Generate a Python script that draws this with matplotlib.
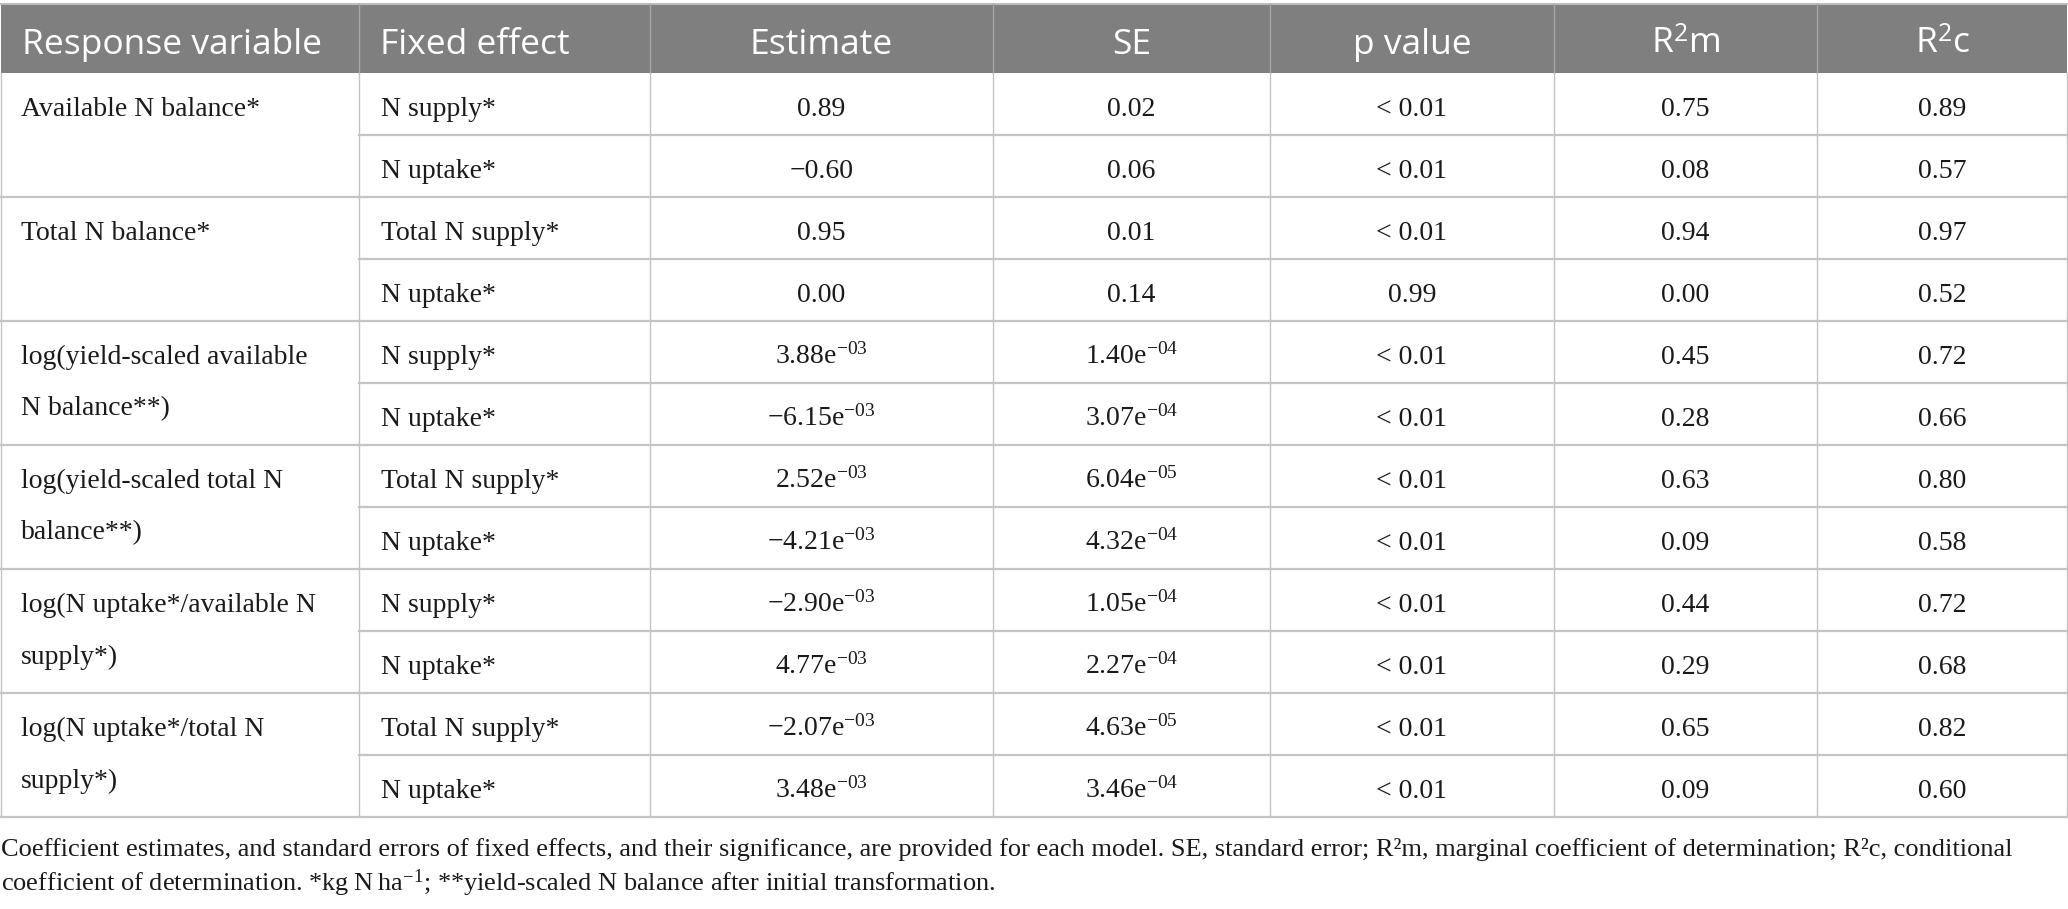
import matplotlib
matplotlib.use("Agg")
import matplotlib.pyplot as plt

# ---------------- data ----------------
columns = ["Response variable", "Fixed effect", "Estimate", "SE", "p value", "R$^{\\mathsf{2}}$m", "R$^{\\mathsf{2}}$c"]
response = ["Available N balance*", "Total N balance*",
            "log(yield-scaled available\nN balance**)",
            "log(yield-scaled total N\nbalance**)",
            "log(N uptake*/available N\nsupply*)",
            "log(N uptake*/total N\nsupply*)"]
fixed = ["N supply*", "N uptake*", "Total N supply*", "N uptake*",
         "N supply*", "N uptake*", "Total N supply*", "N uptake*",
         "N supply*", "N uptake*", "Total N supply*", "N uptake*"]
estimate = ["0.89", "-0.60", "0.95", "0.00", "3.88e-03", "-6.15e-03",
            "2.52e-03", "-4.21e-03", "-2.90e-03", "4.77e-03", "-2.07e-03", "3.48e-03"]
se = ["0.02", "0.06", "0.01", "0.14", "1.40e-04", "3.07e-04",
      "6.04e-05", "4.32e-04", "1.05e-04", "2.27e-04", "4.63e-05", "3.46e-04"]
pval = ["< 0.01", "< 0.01", "< 0.01", "0.99", "< 0.01", "< 0.01",
        "< 0.01", "< 0.01", "< 0.01", "< 0.01", "< 0.01", "< 0.01"]
r2m = ["0.75", "0.08", "0.94", "0.00", "0.45", "0.28", "0.63", "0.09", "0.44", "0.29", "0.65", "0.09"]
r2c = ["0.89", "0.57", "0.97", "0.52", "0.72", "0.66", "0.80", "0.58", "0.72", "0.68", "0.82", "0.60"]
footnote = ["Coefficient estimates, and standard errors of fixed effects, and their significance, are provided for each model. SE, standard error; R\u00b2m, marginal coefficient of determination; R\u00b2c, conditional",
            "coefficient of determination. *kg\u2009N\u2009ha$^{-1}$; **yield-scaled N balance after initial transformation."]

# ---------------- layout ----------------
W, H = 2068, 909
col_x = [1, 359, 650, 993, 1270, 1554, 1817, 2067]
head_top, head_bot = 4, 73
row_h = 62.0
n_rows = len(fixed)

plt.rcParams['mathtext.fontset'] = 'custom'
plt.rcParams['mathtext.rm'] = 'Liberation Serif'
plt.rcParams['mathtext.it'] = 'Liberation Serif:italic'
plt.rcParams['mathtext.sf'] = 'Open Sans'

SERIF = ['Liberation Serif', 'DejaVu Serif']
SANS = ['Open Sans', 'DejaVu Sans']
body_fs = 20
foot_fs = 19
head_fs = 25.5
txt_c = '#1a1a1a'

fig = plt.figure(figsize=(W / 100, H / 100), dpi=100)
ax = fig.add_axes([0, 0, 1, 1])
ax.set_xlim(0, W)
ax.set_ylim(H, 0)
ax.axis('off')

head_bg = '#7f7f7f'
line_c = '#c4c4c4'

# header background
ax.fill_between([col_x[0], col_x[-1]], head_top, head_bot, color=head_bg, lw=0)
ax.plot([col_x[0], col_x[-1]], [head_top, head_top], color='#bdbdbd', lw=1.5)
for x in col_x[1:-1]:
    ax.plot([x, x], [head_top, head_bot], color='#a6a6a6', lw=1)


def fmt(s):
    s = s.replace('-', '\u2212', 1) if s.startswith('-') else s
    if 'e-' in s:
        mant, ex = s.split('e-')
        return mant + 'e$^{\\mathrm{-' + ex + '}}$'
    return s


# header texts
hb = 54
for j, name in enumerate(columns):
    if j < 2:
        ax.text(col_x[j] + 21, hb, name, color='white', fontsize=head_fs,
                family=SANS, ha='left', va='baseline')
    else:
        ax.text((col_x[j] + col_x[j + 1]) / 2, hb, name, color='white', fontsize=head_fs,
                family=SANS, ha='center', va='baseline')

# body
base_off = 42.5
line_gap = 52
table_bot = head_bot + n_rows * row_h
for i in range(n_rows):
    yt = head_bot + i * row_h
    yb_txt = yt + base_off
    vals = [fixed[i], estimate[i], se[i], pval[i], r2m[i], r2c[i]]
    for k, v in enumerate(vals):
        j = k + 1
        if j == 1:
            ax.text(col_x[j] + 22, yb_txt, v, fontsize=body_fs, family=SERIF, ha='left', va='baseline', color=txt_c)
        else:
            ax.text((col_x[j] + col_x[j + 1]) / 2, yb_txt, fmt(v), fontsize=body_fs, family=SERIF,
                    ha='center', va='baseline', color=txt_c)
    # horizontal separator under row
    yb = yt + row_h
    x0 = col_x[0] if (i % 2 == 1) else col_x[1]
    ax.plot([x0, col_x[-1]], [yb, yb], color=line_c, lw=1.6)

for g, name in enumerate(response):
    for li, line in enumerate(name.split('\n')):
        y = head_bot + 2 * g * row_h + base_off + li * line_gap
        ax.text(col_x[0] + 20, y, line, fontsize=body_fs, family=SERIF, ha='left', va='baseline', color=txt_c)

for x in col_x:
    ax.plot([x, x], [head_bot, table_bot], color=line_c, lw=1)

# footnote
for li, line in enumerate(footnote):
    ax.text(1, 856 + li * 35, line, fontsize=foot_fs, family=SERIF, ha='left', va='baseline', color=txt_c)

fig.savefig('out.png', dpi=100)
